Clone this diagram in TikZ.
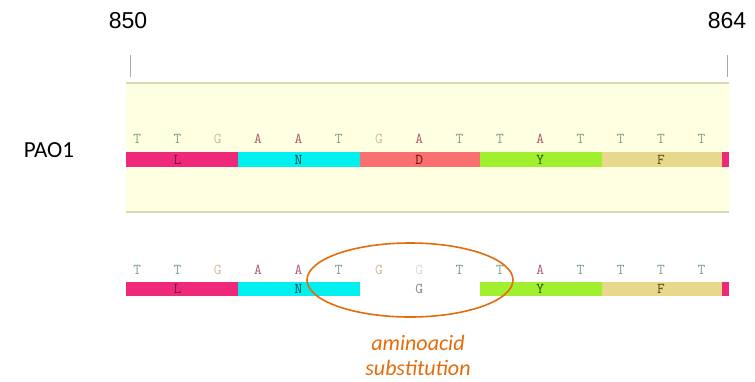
\documentclass[tikz,border=0pt]{standalone}
\usepackage{fontspec}
\setmainfont{Carlito}
\newfontfamily\numfont{Liberation Sans}
\usetikzlibrary{shapes.geometric}
\definecolor{bandyellow}{RGB}{255,255,226}
\definecolor{bandline}{RGB}{214,219,176}
\definecolor{tickgray}{RGB}{170,170,170}
\definecolor{baseT}{RGB}{125,160,135}
\definecolor{baseG}{RGB}{205,185,150}
\definecolor{baseA}{RGB}{170,90,105}
\definecolor{baseX}{RGB}{215,215,215}
\definecolor{colL}{RGB}{240,40,122}
\definecolor{colN}{RGB}{0,240,240}
\definecolor{colD}{RGB}{248,112,112}
\definecolor{colY}{RGB}{160,240,48}
\definecolor{colF}{RGB}{232,216,140}
\definecolor{aaL}{RGB}{100,25,45}
\definecolor{aaN}{RGB}{0,70,70}
\definecolor{aaD}{RGB}{100,15,15}
\definecolor{aaY}{RGB}{45,85,0}
\definecolor{aaF}{RGB}{85,70,25}
\definecolor{aaG}{RGB}{130,130,130}
\definecolor{subst}{RGB}{228,108,10}
\tikzset{
  numlabel/.style={font=\numfont\fontsize{23}{26}\selectfont, inner sep=0pt},
  rowlabel/.style={font=\fontsize{23}{26}\selectfont, inner sep=0pt},
  basech/.style={font=\ttfamily\fontsize{15}{16}\selectfont, inner sep=0pt},
  aach/.style={font=\ttfamily\fontsize{15}{16}\selectfont, inner sep=0pt},
  tickline/.style={draw=tickgray, line width=1pt},
  substel/.style={draw=subst, line width=1.6pt, ellipse, minimum width=206pt, minimum height=74pt, inner sep=0pt},
  substlabel/.style={text=subst, font=\itshape\fontsize{22}{25}\selectfont, align=center, inner sep=0pt}
}
\begin{document}
\begin{tikzpicture}[x=1pt,y=-1pt]
\useasboundingbox (0,0) rectangle (755,381);
\fill[white] (0,0) rectangle (755,381);
% band
\fill[bandyellow] (126,83) rectangle (729,213);
\draw[bandline, line width=2.2pt] (126,83) -- (729,83);
\draw[bandline, line width=1.8pt] (126,212) -- (729,212);
% ticks and numbers
\node[numlabel] (n850) at (128,21) {850};
\node[numlabel] (n864) at (727,21) {864};
\coordinate (t1a) at (130,55); \coordinate (t1b) at (130,77);
\coordinate (t2a) at (727,55); \coordinate (t2b) at (727,77);
\draw[tickline] (t1a) -- (t1b);
\draw[tickline] (t2a) -- (t2b);
\node[rowlabel] (pao1) at (49,150) {PAO1};
% row 1 bars
\fill[colL] (126,152) rectangle (238,167);
\fill[colN] (238,152) rectangle (360,167);
\fill[colD] (360,152) rectangle (480,167);
\fill[colY] (480,152) rectangle (602,167);
\fill[colF] (602,152) rectangle (722,167);
\fill[colL] (722,152) rectangle (729,167);
% row 1 bases
\foreach \b [count=\i from 0] in {T,T,G,A,A,T,G,A,T,T,A,T,T,T,T}{
  \pgfmathsetmacro{\xx}{137.2+40.3*\i}
  \node[basech, text=base\b] (ra\i) at (\xx,139) {\b};
}
% row 1 amino acids
\node[aach, text=aaL] (aL1) at (177.5,159.5) {L};
\node[aach, text=aaN] (aN1) at (298.4,159.5) {N};
\node[aach, text=aaD] (aD1) at (419.3,159.5) {D};
\node[aach, text=aaY] (aY1) at (540.2,159.5) {Y};
\node[aach, text=aaF] (aF1) at (661.1,159.5) {F};
% row 2 bars
\fill[colL] (126,282) rectangle (238,296);
\fill[colN] (238,282) rectangle (360,296);
\fill[colY] (480,282) rectangle (602,296);
\fill[colF] (602,282) rectangle (722,296);
\fill[colL] (722,282) rectangle (729,296);
% row 2 bases
\foreach \b/\c [count=\i from 0] in {T/baseT,T/baseT,G/baseG,A/baseA,A/baseA,T/baseT,G/baseG,G/baseX,T/baseT,T/baseT,A/baseA,T/baseT,T/baseT,T/baseT,T/baseT}{
  \pgfmathsetmacro{\xx}{137.2+40.3*\i}
  \node[basech, text=\c] (rb\i) at (\xx,270) {\b};
}
% row 2 amino acids
\node[aach, text=aaL] (aL2) at (177.5,289) {L};
\node[aach, text=aaN] (aN2) at (298.4,289) {N};
\node[aach, text=aaG] (aG2) at (419.3,289) {G};
\node[aach, text=aaY] (aY2) at (540.2,289) {Y};
\node[aach, text=aaF] (aF2) at (661.1,289) {F};
% substitution marker
\node[substel] (subst) at (410,280) {};
\node[substlabel] (sublabel) at (418,355) {aminoacid\\substitution};
\end{tikzpicture}
\end{document}
